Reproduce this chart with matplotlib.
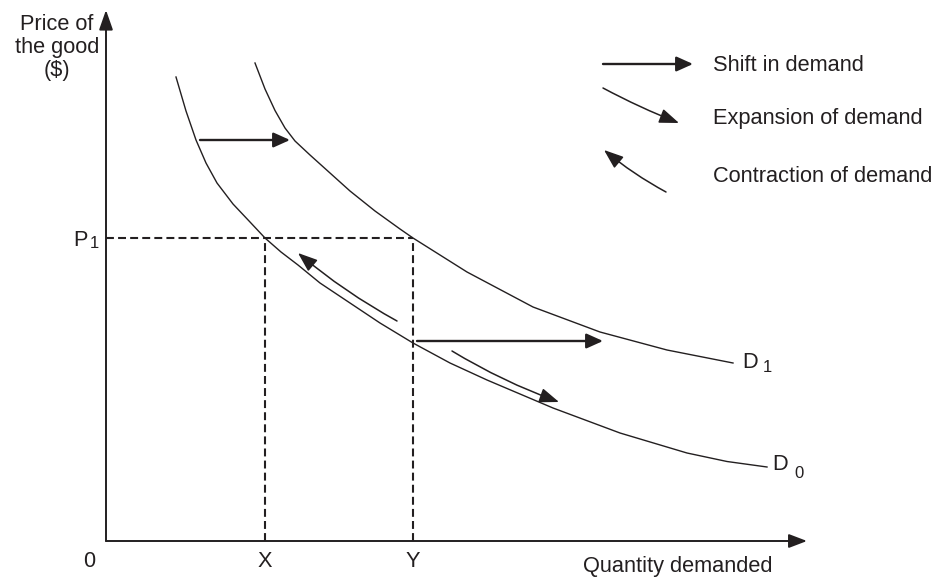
import matplotlib.pyplot as plt
from matplotlib.patches import FancyArrowPatch

plt.rcParams['font.family'] = ['Liberation Sans', 'DejaVu Sans']
INK = '#231f20'

# demand curves (quantity, price) with origin at the axes corner
d0_q = [70, 80, 90, 100, 111, 127, 144, 159, 175, 192, 214, 241, 274, 307, 344, 381, 447,
        514, 581, 621, 661]
d0_p = [464, 430, 401, 378, 358, 337, 319, 303, 289, 276, 258, 240, 218, 198, 178, 161, 133,
        108, 88, 79.5, 74]
d1_q = [149, 159, 169, 179, 189, 204, 224, 244, 269, 294, 307, 361, 427, 494, 561, 627]
d1_p = [478, 452, 430.5, 413, 400, 386, 368, 350, 330, 312, 303, 269, 234, 209, 191, 178]

p1 = 303
qx, qy = 159, 307

# arrows: (start, end)
shift_arrows = [((94, 401), (184, 401)), ((311, 200), (497, 200))]
contraction = ((291, 220), (192, 288))
expansion = ((346, 190), (453, 139))
legend_items = ['Shift in demand', 'Expansion of demand', 'Contraction of demand']

fig = plt.figure(figsize=(9.4, 5.77), dpi=100)
ax = fig.add_axes([0, 0, 1, 1])
ax.set_xlim(-106, 834)
ax.set_ylim(-36, 541)
ax.axis('off')

# axes with arrow heads
ax.annotate('', xy=(0, 531), xytext=(0, 0),
            arrowprops=dict(arrowstyle='-|>,head_length=1.2,head_width=0.42', color=INK,
                            lw=1.4, shrinkA=0, shrinkB=0, mutation_scale=10))
ax.annotate('', xy=(701, 0), xytext=(0, 0),
            arrowprops=dict(arrowstyle='-|>,head_length=1.1,head_width=0.42', color=INK,
                            lw=1.4, shrinkA=0, shrinkB=0, mutation_scale=10))

ax.plot(d0_q, d0_p, color=INK, lw=1.0)
ax.plot(d1_q, d1_p, color=INK, lw=1.0)

dash = (0, (3.8, 2.0))
ax.plot([0, qy], [p1, p1], color=INK, lw=1.5, linestyle=dash)
ax.plot([qx, qx], [0, p1], color=INK, lw=1.5, linestyle=dash)
ax.plot([qy, qy], [0, p1], color=INK, lw=1.5, linestyle=dash)


def arrow(a, b, rad=0.0, lw=1.5, hl=1.0, hw=0.45):
    ax.add_patch(FancyArrowPatch(a, b, arrowstyle=f'-|>,head_length={hl},head_width={hw}',
                                 mutation_scale=10, color=INK, lw=lw, shrinkA=0, shrinkB=0,
                                 connectionstyle=f'arc3,rad={rad}'))


for a, b in shift_arrows:
    arrow(a, b, lw=1.7)
arrow(*contraction, rad=-0.05, lw=1.1, hl=1.2)
arrow(*expansion, rad=0.05, lw=1.1, hl=1.2)

# legend
arrow((497, 477), (587, 477), lw=1.7)
arrow((497, 453), (573, 418), rad=0.03, lw=1.1, hl=1.2)
arrow((560, 349), (498, 391), rad=-0.05, lw=1.1, hl=1.2)
fs = 15.7
for txt, y in zip(legend_items, [470, 417, 359]):
    ax.text(607, y, txt, fontsize=fs, color=INK, va='baseline')

ax.text(-49, 527, 'Price of\nthe good\n($)', fontsize=fs, color=INK, ha='center', va='top',
        linespacing=1.13)
ax.text(-26, 301, 'P', fontsize=fs, color=INK, ha='center', va='center')
ax.text(-12, 298, '1', fontsize=12, color=INK, ha='center', va='center')
ax.text(-17, -26, '0', fontsize=fs, color=INK, ha='center', va='baseline')
ax.text(qx, -26, 'X', fontsize=fs, color=INK, ha='center', va='baseline')
ax.text(qy, -26, 'Y', fontsize=fs, color=INK, ha='center', va='baseline')
ax.text(572, -31, 'Quantity demanded', fontsize=fs, color=INK, ha='center', va='baseline')
ax.text(644, 179, 'D', fontsize=fs, color=INK, ha='center', va='center')
ax.text(661, 173, '1', fontsize=12, color=INK, ha='center', va='center')
ax.text(674, 76, 'D', fontsize=fs, color=INK, ha='center', va='center')
ax.text(693, 68, '0', fontsize=12, color=INK, ha='center', va='center')

fig.savefig('out.png', dpi=100)
